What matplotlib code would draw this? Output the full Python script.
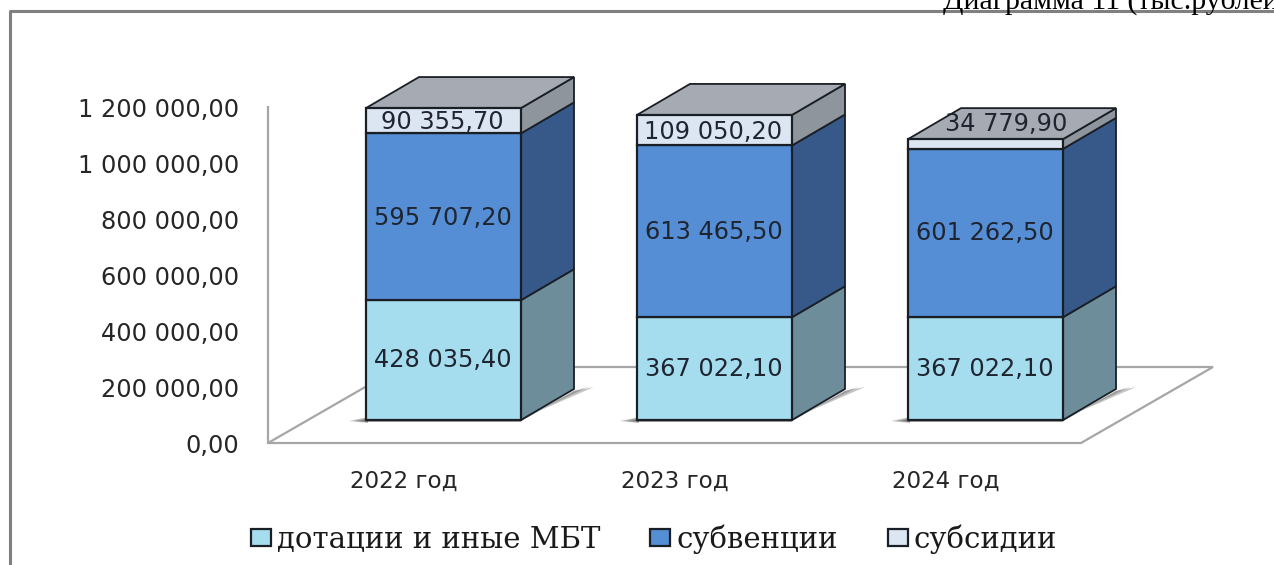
import matplotlib
matplotlib.use("Agg")
import matplotlib.pyplot as plt
from matplotlib.patches import Polygon, Patch
from matplotlib.transforms import Affine2D, IdentityTransform

categories = ["2022 год", "2023 год", "2024 год"]
series_names = ["дотации и иные МБТ", "субвенции", "субсидии"]
dotacii = [428035.40, 367022.10, 367022.10]
subvencii = [595707.20, 613465.50, 601262.50]
subsidii = [90355.70, 109050.20, 34779.90]
y_ticks = [0, 200000, 400000, 600000, 800000, 1000000, 1200000]

W, H = 1274, 565
fig = plt.figure(figsize=(W / 100, H / 100), dpi=100, facecolor="white")
L, R, T, B = 268, 1081, 107, 443
ax = fig.add_axes([L / W, 1 - B / H, (R - L) / W, (B - T) / H])
ax.set_xlim(-0.5, 2.5)
ax.set_ylim(0, 1200000)
ax.patch.set_alpha(0)
for s in ["top", "right", "bottom"]:
    ax.spines[s].set_visible(False)
ax.spines["left"].set_color("#A6A6A6")
ax.spines["left"].set_linewidth(1.6)

FONT = "DejaVu Sans"
TXT = "#262626"
LBL = 17.3
px = IdentityTransform()


def fmt(v):
    return f"{v:,.2f}".replace(",", " ").replace(".", ",")


def shift(dx, dy):
    return ax.transData + Affine2D().translate(dx, dy)


# floor outline: the front edge of the plot plus a pixel depth
x0, x1 = ax.get_xlim()
fl_front = shift(0, 0)
fl_back = shift(132, 76)
ax.add_patch(Polygon([fl_front.transform((x0, 0)), fl_front.transform((x1, 0)),
                      fl_back.transform((x1, 0)), fl_back.transform((x0, 0))],
                     closed=True, fc="white", ec="#A6A6A6", lw=1.6, transform=px,
                     zorder=1, clip_on=False))

colors = ["#A5DDEF", "#558ED5", "#DCE6F2"]
side_colors = ["#6C8D99", "#36598A", "#8F959C"]
TOP_COLOR = "#A6AAB3"
EDGE = "#1A1F26"
WIDTH = 0.572
OX, OY = 40, 23       # bars stand this far behind the front plane
DX, DY = 53, 31       # bar depth
xs = range(len(categories))
series = [dotacii, subvencii, subsidii]

bottoms = [0.0, 0.0, 0.0]
front = shift(OX, OY)
back = shift(OX + DX, OY + DY)

# soft contact shadows on the floor
for i in xs:
    l, r = i - WIDTH / 2, i + WIDTH / 2
    fl = front.transform((l, 0))
    fr = front.transform((r, 0))
    br = back.transform((r, 0))
    for k, reach in enumerate((1.0, 0.7, 0.4)):
        ax.add_patch(Polygon([(fl[0] - 17 * reach, fl[1] - 1), (fl[0] + 2, fl[1] - 1 - 2 * reach),
                              (fl[0] + 2, fl[1] + 3 * reach)],
                             closed=True, fc="#404040", ec="none", alpha=0.3, transform=px,
                             zorder=2, clip_on=False))
        ax.add_patch(Polygon([fr + (0, -1), br + (0, -2), br + (20 * reach, 2), fr + (2, 2)],
                             closed=True, fc="#404040", ec="none", alpha=0.3, transform=px,
                             zorder=2, clip_on=False))
        ax.add_patch(Polygon([(fl[0], fl[1] - 2), (fr[0], fr[1] - 2), (fr[0], fr[1]), (fl[0], fl[1])],
                             closed=True, fc="#606060", ec="none", alpha=0.25, transform=px,
                             zorder=2, clip_on=False))

for vals, col, side in zip(series, colors, side_colors):
    ax.bar(list(xs), vals, WIDTH, bottom=bottoms, color=col, edgecolor=EDGE, linewidth=1.6,
           transform=front, zorder=4, clip_on=False)
    for i, v in enumerate(vals):
        b, t = bottoms[i], bottoms[i] + v
        r = i + WIDTH / 2
        pts = [front.transform((r, b)), back.transform((r, b)),
               back.transform((r, t)), front.transform((r, t))]
        ax.add_patch(Polygon(pts, closed=True, fc=side, ec=EDGE, lw=1.3, transform=px,
                             zorder=3, clip_on=False))
    bottoms = [b + v for b, v in zip(bottoms, vals)]

for i in xs:
    l, r, t = i - WIDTH / 2, i + WIDTH / 2, bottoms[i]
    pts = [front.transform((l, t)), front.transform((r, t)),
           back.transform((r, t)), back.transform((l, t))]
    ax.add_patch(Polygon(pts, closed=True, fc=TOP_COLOR, ec=EDGE, lw=1.3, transform=px,
                         zorder=3, clip_on=False))

# data labels
label_nudge = {(2, 2): (22, 20), (1, 2): (0, -2), (1, 1): (0, -1), (0, 2): (0, -1), (0, 1): (0, -1)}
bottoms = [0.0, 0.0, 0.0]
for s, vals in enumerate(series):
    for i, v in enumerate(vals):
        nx, ny = label_nudge.get((i, s), (0, 0))
        ax.text(i, bottoms[i] + v / 2, fmt(v), transform=shift(OX - 1 + nx, OY + ny), ha="center",
                va="center", family=FONT, fontsize=LBL, color="#1F2530", zorder=6)
    bottoms = [b + v for b, v in zip(bottoms, vals)]

# axes ticks
ax.set_yticks(y_ticks, [fmt(v) for v in y_ticks], family=FONT, fontsize=LBL, color=TXT)
ax.set_xticks(list(xs), categories, family=FONT, fontsize=16.6, color=TXT)
ax.tick_params(axis="both", length=0)
ax.tick_params(axis="y", pad=21)
ax.tick_params(axis="x", pad=19)
for t in ax.get_xticklabels():
    t.set_x(t.get_position()[0])

# outer frame, running off the picture
fig.add_artist(plt.Line2D([9.5, 9.5, W], [0, H - 10.5, H - 10.5], transform=px, color="#808080", lw=2.2))

# caption cut off at the top edge
fig.text(943 / W, 1 - 8.5 / H, "Диаграмма 11 (тыс.рублей)", family="Liberation Serif", fontsize=21.5,
         ha="left", va="baseline", color="black")

handles = [Patch(facecolor=c, edgecolor=EDGE, linewidth=1.6) for c in colors]
fig.legend(handles, series_names, ncols=3, loc="center", bbox_to_anchor=(654 / W, 1 - 539 / H),
           frameon=False, prop={"family": "DejaVu Serif", "size": 21}, handlelength=0.69,
           handleheight=0.52, handletextpad=0.2, columnspacing=1.72, labelcolor="#1A1A1A")

fig.savefig("out.png", dpi=100)
